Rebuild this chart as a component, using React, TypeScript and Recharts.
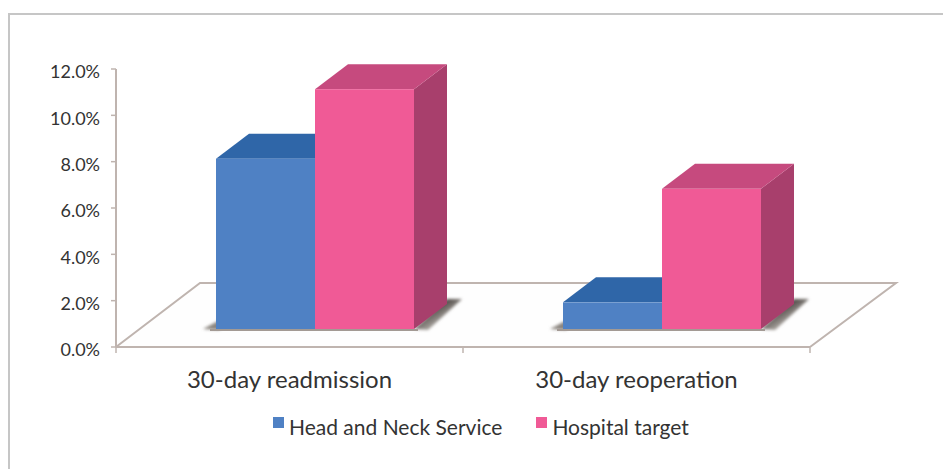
import { BarChart, Bar, XAxis, YAxis, Legend, usePlotArea } from 'recharts';

const categories = ['30-day readmission', '30-day reoperation'];
const serviceValues = [7.35, 1.15];
const targetValues = [10.35, 6.05];
const yTicks = [0, 2, 4, 6, 8, 10, 12];

const data = categories.map((name, i) => ({
  name,
  service: serviceValues[i],
  target: targetValues[i],
}));

const DEPTH_X = 33;
const DEPTH_Y = 25;
const FLOOR_LIFT = 18; // bars stand on the floor, above the axis line
const BAR_SHIFT = 25;
const AXIS_COLOR = '#bfb4af';
const TEXT_COLOR = '#333333';
const FONT = 'Lato, sans-serif';

function Floor() {
  const plot = usePlotArea();
  if (!plot) return null;
  const left = plot.x;
  const right = plot.x + plot.width;
  const bottom = plot.y + plot.height;
  const backY = bottom - 64;
  const ticks = [left, left + plot.width / 2, right];
  return (
    <g>
      <defs>
        <filter id="soft" x="-40%" y="-40%" width="180%" height="180%">
          <feGaussianBlur stdDeviation="1.5" />
        </filter>
        <linearGradient id="shadowRight" x1="0" y1="0" x2="1" y2="1">
          <stop offset="38%" stopColor="#55504c" />
          <stop offset="68%" stopColor="#b5b0ab" />
        </linearGradient>
      </defs>
      <polyline
        points={`${left},${bottom} ${left + 84},${backY} ${right + 86},${backY} ${right},${bottom}`}
        fill="#fefefe"
        stroke={AXIS_COLOR}
        strokeWidth={2}
      />
      {ticks.map((x) => (
        <line key={x} x1={x} x2={x} y1={bottom} y2={bottom + 6} stroke={AXIS_COLOR} strokeWidth={1.5} />
      ))}
    </g>
  );
}

interface BoxProps {
  x?: number;
  y?: number;
  width?: number;
  height?: number;
  front: string;
  top: string;
  side: string;
  shadow: 'left' | 'right';
}

function Box3D({ x = 0, y = 0, width = 0, height = 0, front, top, side, shadow }: BoxProps) {
  const x0 = x + BAR_SHIFT;
  const x1 = x0 + width;
  const y0 = y - FLOOR_LIFT;
  const y1 = y0 + height;
  const shadowPoints =
    shadow === 'right'
      ? `${x1},${y1} ${x1 + DEPTH_X},${y1 - DEPTH_Y - 5} ${x1 + DEPTH_X + 15},${y1 - DEPTH_Y - 5} ${x1 + 14},${y1 + 1}`
      : `${x0 - 13},${y1} ${x0 + 4},${y1 - 9} ${x0 + 4},${y1 + 1}`;
  return (
    <g>
      <polygon
        points={shadowPoints}
        fill={shadow === 'right' ? 'url(#shadowRight)' : '#8a847e'}
        filter="url(#soft)"
      />
      <line x1={x0 - 6} x2={x1 + 4} y1={y1 + 1} y2={y1 + 1} stroke="#a39a94" strokeWidth={2} />
      <polygon
        points={`${x1},${y0} ${x1 + DEPTH_X},${y0 - DEPTH_Y} ${x1 + DEPTH_X},${y1 - DEPTH_Y} ${x1},${y1}`}
        fill={side}
      />
      <polygon
        points={`${x0},${y0} ${x0 + DEPTH_X},${y0 - DEPTH_Y} ${x1 + DEPTH_X},${y0 - DEPTH_Y} ${x1},${y0}`}
        fill={top}
      />
      <rect x={x0} y={y0} width={width} height={height} fill={front} />
    </g>
  );
}

function LegendContent({ payload }: any) {
  return (
    <div style={{ display: 'flex', fontFamily: FONT, fontSize: 21, color: TEXT_COLOR, whiteSpace: 'nowrap' }}>
      {(payload ?? []).map((item: any) => (
        <div key={item.value} style={{ display: 'flex', alignItems: 'center', marginRight: 34 }}>
          <span style={{ width: 11, height: 11, background: item.color, marginRight: 5, marginTop: -9 }} />
          <span>{item.value}</span>
        </div>
      ))}
    </div>
  );
}

export default function App() {
  return (
    <div style={{ position: 'absolute', left: 0, top: 0, width: 943, height: 469, background: '#fff' }}>
      <div
        style={{
          position: 'absolute',
          left: 8,
          top: 13,
          width: 935,
          height: 456,
          borderLeft: '2px solid #c6c6c6',
          borderTop: '2px solid #c6c6c6',
          boxSizing: 'border-box',
        }}
      />
      <div style={{ position: 'absolute', left: 0, top: 0 }}>
        <BarChart
          width={943}
          height={469}
          data={data}
          margin={{ top: 69, right: 133, bottom: 82, left: 0 }}
          barSize={99}
          barGap={0}
        >
          <Floor />
          <XAxis
            dataKey="name"
            height={40}
            tickLine={false}
            axisLine={{ stroke: AXIS_COLOR, strokeWidth: 2 }}
            tick={{ fontFamily: FONT, fontSize: 24, fill: TEXT_COLOR }}
            tickMargin={18}
            interval={0}
          />
          <YAxis
            width={116}
            domain={[0, 12]}
            ticks={yTicks}
            tickFormatter={(v: number) => `${v.toFixed(1)}%`}
            tickSize={5}
            tickMargin={11}
            tickLine={{ stroke: AXIS_COLOR, strokeWidth: 1.5 }}
            axisLine={{ stroke: AXIS_COLOR, strokeWidth: 2 }}
            tick={{ fontFamily: FONT, fontSize: 18, fill: TEXT_COLOR, dy: 3 }}
          />
          <Legend
            layout="horizontal"
            verticalAlign="middle"
            content={<LegendContent />}
            wrapperStyle={{ left: 273, top: 414, width: 500 }}
          />
          <Bar
            dataKey="service"
            name="Head and Neck Service"
            fill="#4f81c4"
            isAnimationActive={false}
            shape={(props: any) => <Box3D {...props} front="#4f81c4" top="#2f66a8" side="#2f66a8" shadow="left" />}
          />
          <Bar
            dataKey="target"
            name="Hospital target"
            fill="#f05a96"
            isAnimationActive={false}
            shape={(props: any) => <Box3D {...props} front="#f05a96" top="#c64a7e" side="#a83f6c" shadow="right" />}
          />
        </BarChart>
      </div>
    </div>
  );
}
